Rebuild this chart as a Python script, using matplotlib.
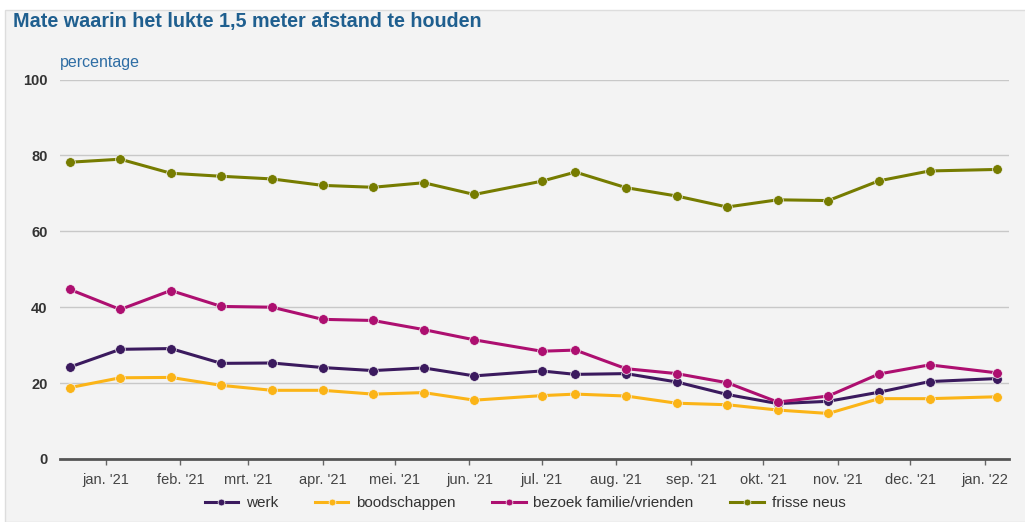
import datetime as dt
import matplotlib
matplotlib.use("Agg")
import matplotlib.pyplot as plt
from matplotlib.patches import Rectangle

plt.rcParams['font.family'] = ['Liberation Sans', 'DejaVu Sans']

# meetmomenten
datums = ["2020-12-17", "2021-01-07", "2021-01-28", "2021-02-18", "2021-03-11",
          "2021-04-01", "2021-04-22", "2021-05-13", "2021-06-03", "2021-07-01",
          "2021-07-15", "2021-08-05", "2021-08-26", "2021-09-16", "2021-10-07",
          "2021-10-28", "2021-11-18", "2021-12-09", "2022-01-06"]

werk = [24.2, 28.9, 29.1, 25.2, 25.3, 24.1, 23.3, 24.0, 21.9, 23.2,
        22.3, 22.5, 20.3, 17.0, 14.6, 15.2, 17.6, 20.4, 21.2]
boodschappen = [18.8, 21.4, 21.5, 19.4, 18.1, 18.1, 17.1, 17.5, 15.5, 16.7,
                17.1, 16.6, 14.7, 14.3, 12.9, 12.0, 15.9, 15.9, 16.4]
bezoek = [44.7, 39.4, 44.4, 40.2, 40.0, 36.8, 36.5, 34.1, 31.4, 28.4,
          28.7, 23.8, 22.5, 20.1, 15.0, 16.6, 22.4, 24.8, 22.7]
frisse_neus = [78.2, 79.0, 75.3, 74.5, 73.8, 72.1, 71.6, 72.8, 69.7, 73.2,
               75.6, 71.5, 69.3, 66.4, 68.3, 68.1, 73.3, 75.9, 76.3]

maand_labels = ["jan. '21", "feb. '21", "mrt. '21", "apr. '21", "mei. '21", "jun. '21",
                "jul. '21", "aug. '21", "sep. '21", "okt. '21", "nov. '21", "dec. '21",
                "jan. '22"]

series = [("werk", werk, "#3b1a5e"),
          ("boodschappen", boodschappen, "#fbb417"),
          ("bezoek familie/vrienden", bezoek, "#ad0f70"),
          ("frisse neus", frisse_neus, "#767c00")]

x = [dt.datetime.strptime(d, "%Y-%m-%d") for d in datums]
maanden = [dt.datetime(2021 + (i // 12), i % 12 + 1, 1) for i in range(13)]

fig = plt.figure(figsize=(10.25, 5.22), dpi=100, facecolor="white")
# grijs paneel
fig.patches.append(Rectangle((5 / 1025, 0), 1, 1 - 10 / 522, transform=fig.transFigure,
                             facecolor="#f3f3f3", edgecolor="#dddddd", lw=1, zorder=-10))
ax = fig.add_axes([60 / 1025, 1 - 459 / 522, (1009 - 60) / 1025, (459 - 79.5) / 522])
ax.set_facecolor("#f3f3f3")

for naam, vals, kleur in series:
    ax.plot(x, vals, color=kleur, lw=2.2, marker="o", ms=7,
            mec="#f3f3f3", mew=0.5, label=naam, zorder=3)

ax.set_ylim(0, 100)
ax.set_xlim(dt.datetime(2020, 12, 13), dt.datetime(2022, 1, 11))
ax.set_yticks([0, 20, 40, 60, 80, 100])
ax.grid(axis="y", color="#c8c8c8", lw=1)
ax.set_axisbelow(True)
for s in ["top", "right", "left"]:
    ax.spines[s].set_visible(False)
ax.spines["bottom"].set_color("#555555")
ax.spines["bottom"].set_linewidth(2)

ax.set_xticks(maanden)
ax.set_xticklabels(maand_labels)
ax.tick_params(axis="x", length=4, width=1, color="#666666", labelsize=10.5,
               labelcolor="#444444", pad=6)
ax.tick_params(axis="y", length=0, labelsize=10.5, labelcolor="#333333", pad=9)
for lbl in ax.get_yticklabels():
    lbl.set_fontweight("bold")

fig.text(13 / 1025, 1 - 22 / 522, "Mate waarin het lukte 1,5 meter afstand te houden",
         fontsize=14.2, fontweight="bold", color="#1f5f8f", va="center")
fig.text(60 / 1025, 1 - 63 / 522, "percentage", fontsize=11.5, color="#2e6da4", va="center")

ax.legend(loc="center", bbox_to_anchor=(0.49, (459 - 503) / (459 - 79.5)), ncol=4,
          frameon=False, fontsize=11, handlelength=2.2, handletextpad=0.5,
          columnspacing=2.4, markerscale=0.7, labelcolor="#333333")

fig.savefig("out.png", dpi=100, facecolor=fig.get_facecolor())
